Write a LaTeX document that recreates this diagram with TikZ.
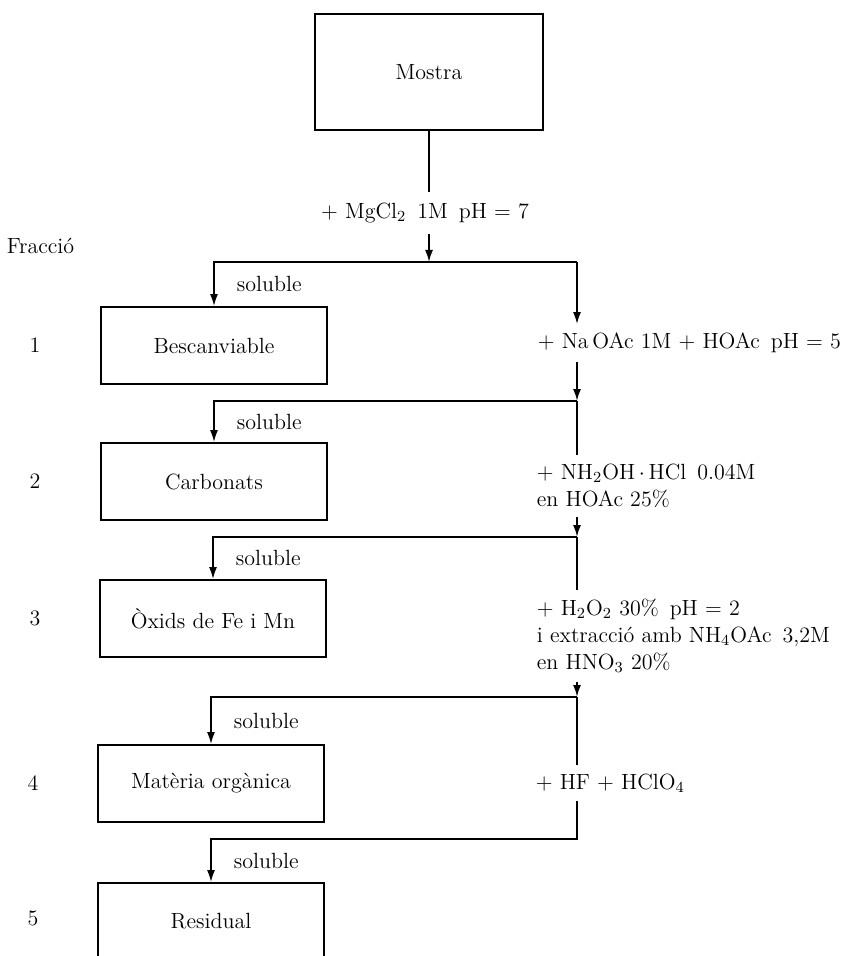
\documentclass[tikz,border=0pt]{standalone}
\usepackage{tikz}
\usetikzlibrary{arrows.meta}
\newcommand\boxW{113pt}
\newcommand\boxH{38.5pt}
\newcommand\colR{577}
\tikzset{
  fraccio/.style={draw, minimum width=\boxW, minimum height=\boxH, inner sep=0pt},
  reactiu/.style={anchor=west, align=left, inner xsep=0pt, inner ysep=4pt},
  num/.style={inner sep=0pt},
  sol/.style={inner sep=0pt},
  fletxa/.style={-{Latex[length=6pt,width=4pt]}},
}

\begin{document}
\begin{tikzpicture}[x=0.5pt, y=-0.5pt, line width=0.9pt, font=\fontsize{11pt}{13.5pt}\selectfont]
\useasboundingbox (0,0) rectangle (859,956);

\node[fraccio, minimum width=114pt, minimum height=58pt] (mostra) at (429,72) {Mostra};
\node[inner ysep=5pt] (mg) at (425,213) {+ MgCl\textsubscript{2}\enspace 1M\enspace pH = 7};
\node[anchor=west, inner sep=0pt] (fr) at (6,246) {Fracció};

\node[fraccio] (b1) at (214,345.5) {Bescanviable};
\node[fraccio] (b2) at (214,481.5) {Carbonats};
\node[fraccio] (b3) at (213,618.5) {Òxids de Fe i Mn};
\node[fraccio] (b4) at (211,783.5) {Matèria orgànica};
\node[fraccio] (b5) at (211,921.5) {Residual};

\node[num] (n1) at (35,345.5) {1};
\node[num] (n2) at (35,481.5) {2};
\node[num] (n3) at (35,618.5) {3};
\node[num] (n4) at (33,783.5) {4};
\node[num] (n5) at (33,918) {5};

\coordinate (c1) at (\colR,262);
\coordinate (c2) at (\colR,401);
\coordinate (c3) at (\colR,537);
\coordinate (c4) at (\colR,697);
\coordinate (c5) at (\colR,839);

\node[reactiu] (r1) at (537,343) {+ Na\,OAc 1M + HOAc\enspace pH = 5};
\node[reactiu] (r2) at (536,486) {+ NH\textsubscript{2}OH\,$\cdot$\,HCl\enspace 0.04M\\en HOAc 25\%};
\node[reactiu] (r3) at (536,636) {+ H\textsubscript{2}O\textsubscript{2} 30\%\enspace pH = 2\\i extracció amb NH\textsubscript{4}OAc\enspace 3,2M\\en HNO\textsubscript{3} 20\%};
\node[reactiu] (r4) at (535,783) {+ HF + HClO\textsubscript{4}};

\draw (mostra.south) -- (mostra.south |- mg.north);
\draw[fletxa] (mostra.south |- mg.south) -- (mostra.south |- c1);

\draw[fletxa] (c1) -- (c1 -| b1) -- (b1.north) node[sol, midway, right=11pt] (s1) {soluble};
\draw[fletxa] (c1) -- (c1 |- r1.north);
\draw[fletxa] (c1 |- r1.south) -- (c2);

\draw[fletxa] (c2) -- (c2 -| b2) -- (b2.north) node[sol, midway, right=11pt] (s2) {soluble};
\draw (c2) -- (c2 |- r2.north);
\draw[fletxa] (c2 |- r2.south) -- (c3);

\draw[fletxa] (c3) -- (c3 -| b3) -- (b3.north) node[sol, midway, right=11pt] (s3) {soluble};
\draw (c3) -- (c3 |- r3.north);
\draw[fletxa] (c3 |- r3.south) -- (c4);

\draw[fletxa] (c4) -- (c4 -| b4) -- (b4.north) node[sol, midway, right=11pt] (s4) {soluble};
\draw (c4) -- (c4 |- r4.north);
\draw[fletxa] (c4 |- r4.south) -- (c5) -- (c5 -| b5) -- (b5.north) node[sol, midway, right=11pt] (s5) {soluble};

\end{tikzpicture}
\end{document}
